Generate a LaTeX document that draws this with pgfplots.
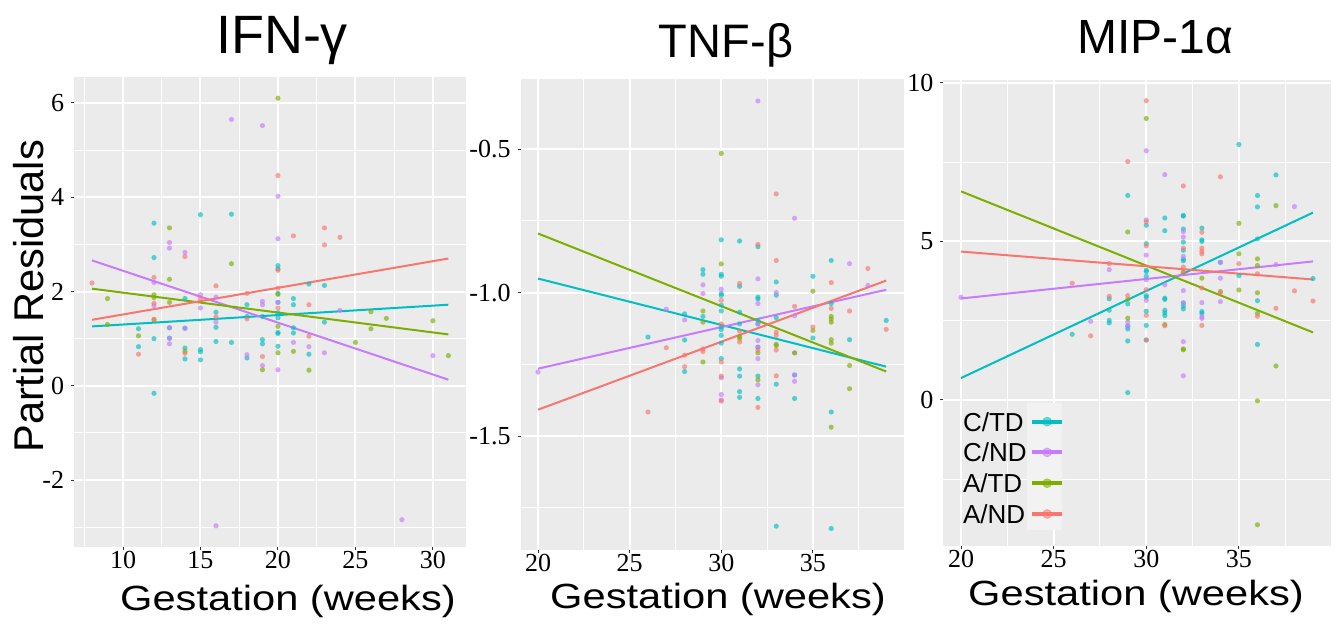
\documentclass[border=0pt]{standalone}
\usepackage{fontspec}
\setmainfont{Liberation Sans}
\newfontfamily\tickfont{Liberation Serif}
\usepackage{pgfplots}
\pgfplotsset{compat=1.18}

\definecolor{ctd}{HTML}{00BFC4}
\definecolor{cnd}{HTML}{C77CFF}
\definecolor{atd}{HTML}{7CAE00}
\definecolor{aND}{HTML}{F8766D}
\definecolor{ggbg}{HTML}{EBEBEB}
\definecolor{keybg}{HTML}{F2F2F2}
\definecolor{ggtick}{HTML}{333333}

\pgfplotsset{
  gg/.style={
    scale only axis,
    axis background/.style={fill=ggbg},
    axis line style={draw=none},
    grid=both,
    major grid style={white, line width=1pt},
    minor grid style={white, line width=0.5pt},
    tick align=outside,
    major tick length=1.5pt,
    minor tick length=0pt,
    tick style={ggtick, line width=0.5pt},
    xtick pos=bottom, ytick pos=left,
    tick label style={font=\fontsize{13}{13}\selectfont\tickfont},
    xticklabel style={yshift=3pt},
  },
  pts/.style={only marks, mark=*, mark size=1.3pt, color=#1,
    mark options={draw opacity=0, fill=#1, fill opacity=0.65}, forget plot},
  fit/.style={#1, line width=1pt, no marks, forget plot},
}

\begin{document}
\begin{tikzpicture}

% ---------------- IFN-gamma ----------------
\begin{axis}[gg,
  at={(37.1pt,-273.5pt)}, anchor=south west,
  width=196pt, height=235pt,
  xmin=6.85, xmax=32.15, ymin=-3.42, ymax=6.55,
  xtick={10,15,20,25,30}, xticklabels={10,15,20,25,30},
  minor xtick={7.5,12.5,17.5,22.5,27.5},
  ytick={-2,0,2,4,6}, yticklabels={-2,0,2,4,6},
  minor ytick={-3,-1,1,3,5},
]
\addplot[pts=ctd] coordinates {
 (11,1.21) (11,0.83) (12,3.45) (12,2.72) (12,1.0) (12,-0.16) (13,1.23) (13,1.01)
 (14,1.85) (14,1.22) (14,0.80) (14,0.57) (15,3.63) (15,0.77) (15,0.72) (15,0.55)
 (16,1.56) (16,1.24) (16,0.94) (17,3.64) (17,0.92) (18,1.72) (18,1.47) (18,0.59)
 (19,1.47) (19,0.98) (19,0.89) (20,2.55) (20,2.48) (20,1.96) (20,1.77) (20,1.55)
 (20,1.44) (20,1.13) (20,1.11) (20,0.84) (21,1.85) (21,1.72) (21,1.23) (21,1.12)
 (22,2.16) (22,0.67) (23,2.13) (23,1.35)
};
\addplot[pts=cnd] coordinates {
 (12,2.19) (12,1.70) (13,3.04) (13,2.92) (13,1.23) (13,1.01) (13,0.89) (14,2.83)
 (14,1.22) (15,1.93) (15,1.65) (16,1.88) (16,1.35) (16,-2.97) (17,5.65) (18,0.66)
 (19,5.52) (19,1.79) (19,1.72) (19,0.43) (20,4.02) (20,3.12) (20,1.77) (20,0.34)
 (21,0.92) (22,0.83) (23,0.70) (24,1.60) (28,-2.84) (30,0.64)
};
\addplot[pts=atd] coordinates {
 (9,1.85) (9,1.30) (11,1.06) (12,1.93) (12,1.87) (12,1.40) (13,3.35) (13,2.26)
 (13,1.77) (14,0.73) (17,2.59) (19,0.34) (20,6.10) (20,1.94) (20,1.26) (20,0.70)
 (21,0.73) (22,0.33) (25,0.92) (26,1.57) (26,1.21) (27,1.43) (30,1.38) (31,0.64)
};
\addplot[pts=aND] coordinates {
 (8,2.18) (11,0.67) (12,2.30) (12,1.75) (12,1.41) (14,2.74) (14,0.69) (15,1.85)
 (16,2.12) (16,1.46) (18,1.96) (18,1.42) (19,0.62) (20,4.46) (20,2.45) (20,2.07)
 (20,1.65) (21,3.18) (22,1.72) (22,1.05) (23,3.35) (23,2.99) (24,3.15)
};
\addplot[fit=ctd] coordinates {(8,1.26) (31,1.72)};
\addplot[fit=cnd] coordinates {(8,2.66) (31,0.13)};
\addplot[fit=atd] coordinates {(8,2.06) (31,1.09)};
\addplot[fit=aND] coordinates {(8,1.40) (31,2.70)};
\end{axis}

% ---------------- TNF-beta ----------------
\begin{axis}[gg,
  at={(260.3pt,-275pt)}, anchor=south west,
  width=191.5pt, height=235.3pt,
  xmin=19.05, xmax=39.95, ymin=-1.897, ymax=-0.257,
  xtick={20,25,30,35}, xticklabels={20,25,30,35},
  minor xtick={22.5,27.5,32.5,37.5},
  ytick={-1.5,-1.0,-0.5}, yticklabels={-1.5,-1.0,-0.5},
  minor ytick={-1.75,-1.25,-0.75},
]
\addplot[pts=ctd] coordinates {
 (26,-1.155) (28,-1.074) (28,-1.165) (28,-1.275) (29,-0.92) (29,-0.936) (29,-1.083)
 (30,-0.816) (30,-0.936) (30,-0.943) (30,-1.003) (30,-1.01) (30,-1.044) (30,-1.064)
 (30,-1.12) (30,-1.129) (30,-1.149) (30,-1.176) (30,-1.23) (31,-0.82) (31,-0.978)
 (31,-1.068) (31,-1.109) (31,-1.266) (31,-1.291) (31,-1.345) (31,-1.365) (32,-0.84)
 (32,-1.016) (32,-1.022) (32,-1.097) (32,-1.109) (32,-1.19) (32,-1.291) (32,-1.369)
 (33,-0.963) (33,-1.009) (33,-1.087) (33,-1.319) (33,-1.814) (34,-1.287) (34,-1.369)
 (35,-0.943) (35,-1.158) (36,-0.888) (36,-1.038) (36,-1.416) (36,-1.822) (37,-1.164)
 (39,-1.097)
};
\addplot[pts=cnd] coordinates {
 (20,-1.277) (27,-1.058) (28,-1.095) (29,-0.973) (29,-1.003) (30,-0.988) (30,-1.297)
 (30,-1.355) (30,-1.374) (32,-0.332) (32,-0.952) (32,-1.038) (32,-1.109) (32,-1.167)
 (32,-1.19) (32,-1.23) (32,-1.321) (33,-1.0) (34,-0.741) (34,-1.081) (34,-1.21)
 (34,-1.287) (34,-1.309) (37,-0.899) (38,-0.975)
};
\addplot[pts=atd] coordinates {
 (29,-1.064) (29,-1.103) (29,-1.242) (30,-0.515) (30,-0.90) (31,-1.153) (31,-1.16)
 (32,-1.21) (32,-1.304) (33,-1.18) (33,-1.185) (34,-1.21) (35,-0.995) (35,-1.132)
 (36,-1.083) (36,-1.092) (36,-1.103) (36,-1.164) (36,-1.176) (36,-1.469) (37,-1.254)
 (37,-1.335)
};
\addplot[pts=aND] coordinates {
 (26,-1.416) (27,-1.192) (28,-1.218) (28,-1.258) (29,-1.196) (29,-1.205) (30,-1.027)
 (30,-1.109) (30,-1.242) (30,-1.291) (30,-1.378) (31,-0.968) (31,-1.134) (31,-1.172)
 (32,-0.832) (32,-1.2) (32,-1.40) (33,-0.656) (33,-0.888) (33,-1.138) (33,-1.149)
 (33,-1.2) (33,-1.29) (34,-1.048) (35,-1.12) (36,-0.965) (36,-1.055) (37,-1.064)
 (38,-0.916) (39,-1.128)
};
\addplot[fit=ctd] coordinates {(20,-0.951) (39,-1.258)};
\addplot[fit=cnd] coordinates {(20,-1.265) (39,-0.990)};
\addplot[fit=atd] coordinates {(20,-0.794) (39,-1.275)};
\addplot[fit=aND] coordinates {(20,-1.408) (39,-0.958)};
\end{axis}

% ---------------- MIP-1alpha ----------------
\begin{axis}[gg,
  at={(471.7pt,-273pt)}, anchor=south west,
  width=193.6pt, height=233.1pt,
  xmin=19.05, xmax=39.95, ymin=-4.61, ymax=10.1,
  xtick={20,25,30,35}, xticklabels={20,25,30,35},
  minor xtick={22.5,27.5,32.5,37.5},
  ytick={0,5,10}, yticklabels={0,5,10},
  minor ytick={-2.5,2.5,7.5},
  legend style={draw=none, fill=none, at={(0.0506,0.287)}, anchor=north west,
    inner sep=0pt, outer sep=0pt, font=\fontsize{13}{13}\selectfont,
    row sep=6pt, column sep=1.8pt,
    nodes={inner sep=0pt, text height=9.4pt, text depth=0pt}},
  legend plot pos=right,
  legend cell align=left,
  legend image code/.code={
    \draw[line width=2pt] (0pt,0pt) -- (15pt,0pt);
    \fill[opacity=0.55] (7.5pt,0pt) circle (2.2pt);},
]
\fill[keybg] (axis cs:23.56,-0.09) rectangle (axis cs:25.45,-4.10);
\addplot[pts=ctd] coordinates {
 (26,2.07) (28,3.19) (28,2.83) (28,2.51) (28,2.43) (29,6.45) (29,3.03) (29,2.33)
 (29,2.24) (29,1.86) (29,0.23) (30,5.51) (30,4.93) (30,4.09) (30,4.05) (30,3.90)
 (30,3.29) (30,3.24) (30,2.80) (30,2.35) (30,1.89) (31,5.74) (31,5.34) (31,3.21)
 (31,3.17) (31,2.83) (31,2.75) (31,2.66) (32,5.82) (32,5.80) (32,5.39) (32,4.98)
 (32,4.72) (32,4.44) (32,4.39) (32,3.06) (32,2.96) (32,2.87) (33,5.42) (33,5.05)
 (33,5.0) (33,2.79) (33,2.73) (34,4.34) (35,8.06) (35,3.92) (36,6.45) (36,6.09)
 (36,5.08) (36,3.13) (36,1.75) (37,7.10) (39,3.83)
};
\addplot[pts=cnd] coordinates {
 (20,3.24) (27,2.48) (28,4.11) (29,2.46) (29,2.33) (30,7.86) (30,5.68) (30,4.57)
 (30,3.79) (30,3.14) (31,7.11) (31,3.63) (32,5.31) (32,5.14) (32,4.53) (32,3.45)
 (32,3.06) (32,1.84) (32,0.76) (33,3.07) (33,2.62) (33,2.57) (34,4.34) (34,3.84)
 (34,3.10) (37,4.27) (38,6.10)
};
\addplot[pts=atd] coordinates {
 (29,5.30) (29,3.17) (29,2.58) (30,8.88) (31,2.38) (32,4.02) (32,1.61) (32,1.58)
 (33,3.84) (34,3.42) (35,5.57) (35,4.61) (35,3.47) (36,4.45) (36,4.24) (36,3.38)
 (36,2.73) (36,-0.03) (36,-3.94) (37,6.13) (37,1.07)
};
\addplot[pts=aND] coordinates {
 (26,3.68) (27,2.02) (28,4.30) (28,3.27) (29,7.52) (29,3.29) (30,9.44) (30,5.62)
 (30,4.86) (30,3.48) (30,2.67) (30,1.89) (31,2.34) (32,6.75) (32,4.79) (32,4.19)
 (32,4.02) (33,5.29) (33,4.79) (33,4.69) (33,4.61) (33,3.53) (33,2.35) (34,7.04)
 (34,3.38) (35,4.30) (36,3.98) (36,2.64) (37,2.89) (38,3.44) (39,3.12)
};
\addplot[fit=ctd] coordinates {(20,0.69) (39,5.91)};
\addplot[fit=cnd] coordinates {(20,3.20) (39,4.37)};
\addplot[fit=atd] coordinates {(20,6.58) (39,2.13)};
\addplot[fit=aND] coordinates {(20,4.68) (39,3.80)};
\addlegendimage{ctd}\addlegendentry{C/TD}
\addlegendimage{cnd}\addlegendentry{C/ND}
\addlegendimage{atd}\addlegendentry{A/TD}
\addlegendimage{aND}\addlegendentry{A/ND}
\end{axis}

% titles and axis labels
\node[anchor=base, font=\fontsize{27}{27}\selectfont] at (141pt,-26.5pt) {IFN-γ};
\node[anchor=base, font=\fontsize{23.5}{23.5}\selectfont] at (363pt,-28.5pt) {TNF-β};
\node[anchor=base, font=\fontsize{24}{24}\selectfont] at (577.5pt,-26.5pt) {MIP-1α};
\node[anchor=base, font=\fontsize{17.5}{17.5}\selectfont] at (144pt,-305pt) {\scalebox{1.19}[1]{Gestation (weeks)}};
\node[anchor=base, font=\fontsize{17.5}{17.5}\selectfont] at (359pt,-304pt) {\scalebox{1.19}[1]{Gestation (weeks)}};
\node[anchor=base, font=\fontsize{17.5}{17.5}\selectfont] at (568pt,-302.5pt) {\scalebox{1.19}[1]{Gestation (weeks)}};
\node[rotate=90, inner sep=0pt, font=\fontsize{20.8}{20.8}\selectfont] at (14.5pt,-148pt) {Partial Residuals};

\pgfresetboundingbox
\useasboundingbox (0,0) rectangle (668.5pt,-311.5pt);
\end{tikzpicture}
\end{document}
